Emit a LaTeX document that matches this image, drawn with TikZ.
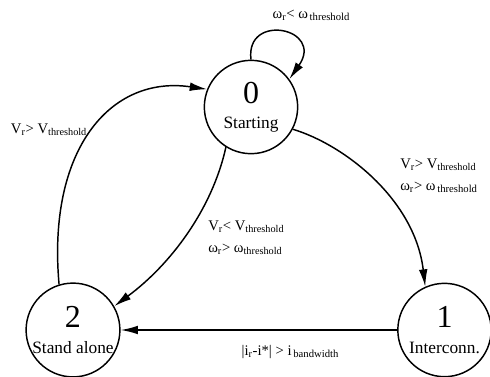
\documentclass[tikz,border=0pt]{standalone}
\usepackage{fontspec}
\setmainfont{Liberation Serif}
\usetikzlibrary{arrows.meta}
\newcommand{\trsub}[1]{\textsubscript{#1}}
\newcommand{\trlow}[1]{\raisebox{-1.5pt}{\fontsize{8}{8}\selectfont\,#1}}
\begin{document}
\begin{tikzpicture}[x=0.75pt,y=-0.75pt,
  statenode/.style={draw,circle,line width=1.1pt,minimum size=70pt,inner sep=0pt,align=center,font=\fontsize{13}{16}\selectfont},
  trans/.style={line width=1.1pt,-{Latex[length=13pt,width=6.5pt]}},
  lab/.style={font=\fontsize{11}{16.5}\selectfont,inner sep=0pt}]
\useasboundingbox (0,0) rectangle (490,376);
\node[statenode] (n0) at (251,107) {{\fontsize{24}{24}\selectfont 0}\\[3pt]Starting};
\node[statenode] (n2) at (73,330) {{\fontsize{24}{24}\selectfont 2}\\[3pt]Stand alone};
\node[statenode] (n1) at (444.5,330) {{\fontsize{24}{24}\selectfont 1}\\[3pt]Interconn.};
% self loop
\draw[trans] (n0.90) .. controls (245,12) and (325,28) .. (n0.36);
% 0 -> 1
\draw[trans] (n0.332) .. controls (345,145) and (415,200) .. (n1.114);
% 0 -> 2
\draw[trans] (n0.238) .. controls (212,210) and (170,265) .. (n2.30);
% 2 -> 0
\draw[trans] (n2.107) .. controls (47,150) and (110,75) .. (n0.158);
% 1 -> 2
\draw[trans] (n1.180) -- (n2.0);
% labels
\node[lab] (l00) at (311,15) {ω\trsub{r}< ω\trlow{threshold}};
\node[lab,anchor=west,align=left] (l01) at (400,176) {V\trsub{r}> V\trsub{threshold}\\ω\trsub{r}> ω\trlow{threshold}};
\node[lab,anchor=west,align=left] (l02) at (208,238) {V\trsub{r}< V\trsub{threshold}\\ω\trsub{r}> ω\trsub{threshold}};
\node[lab] (l20) at (49,130) {V\trsub{r}> V\trsub{threshold}};
\node[lab] (l12) at (290,352) {|i\trsub{r}-i*| > i\trlow{bandwidth}};
\end{tikzpicture}
\end{document}
